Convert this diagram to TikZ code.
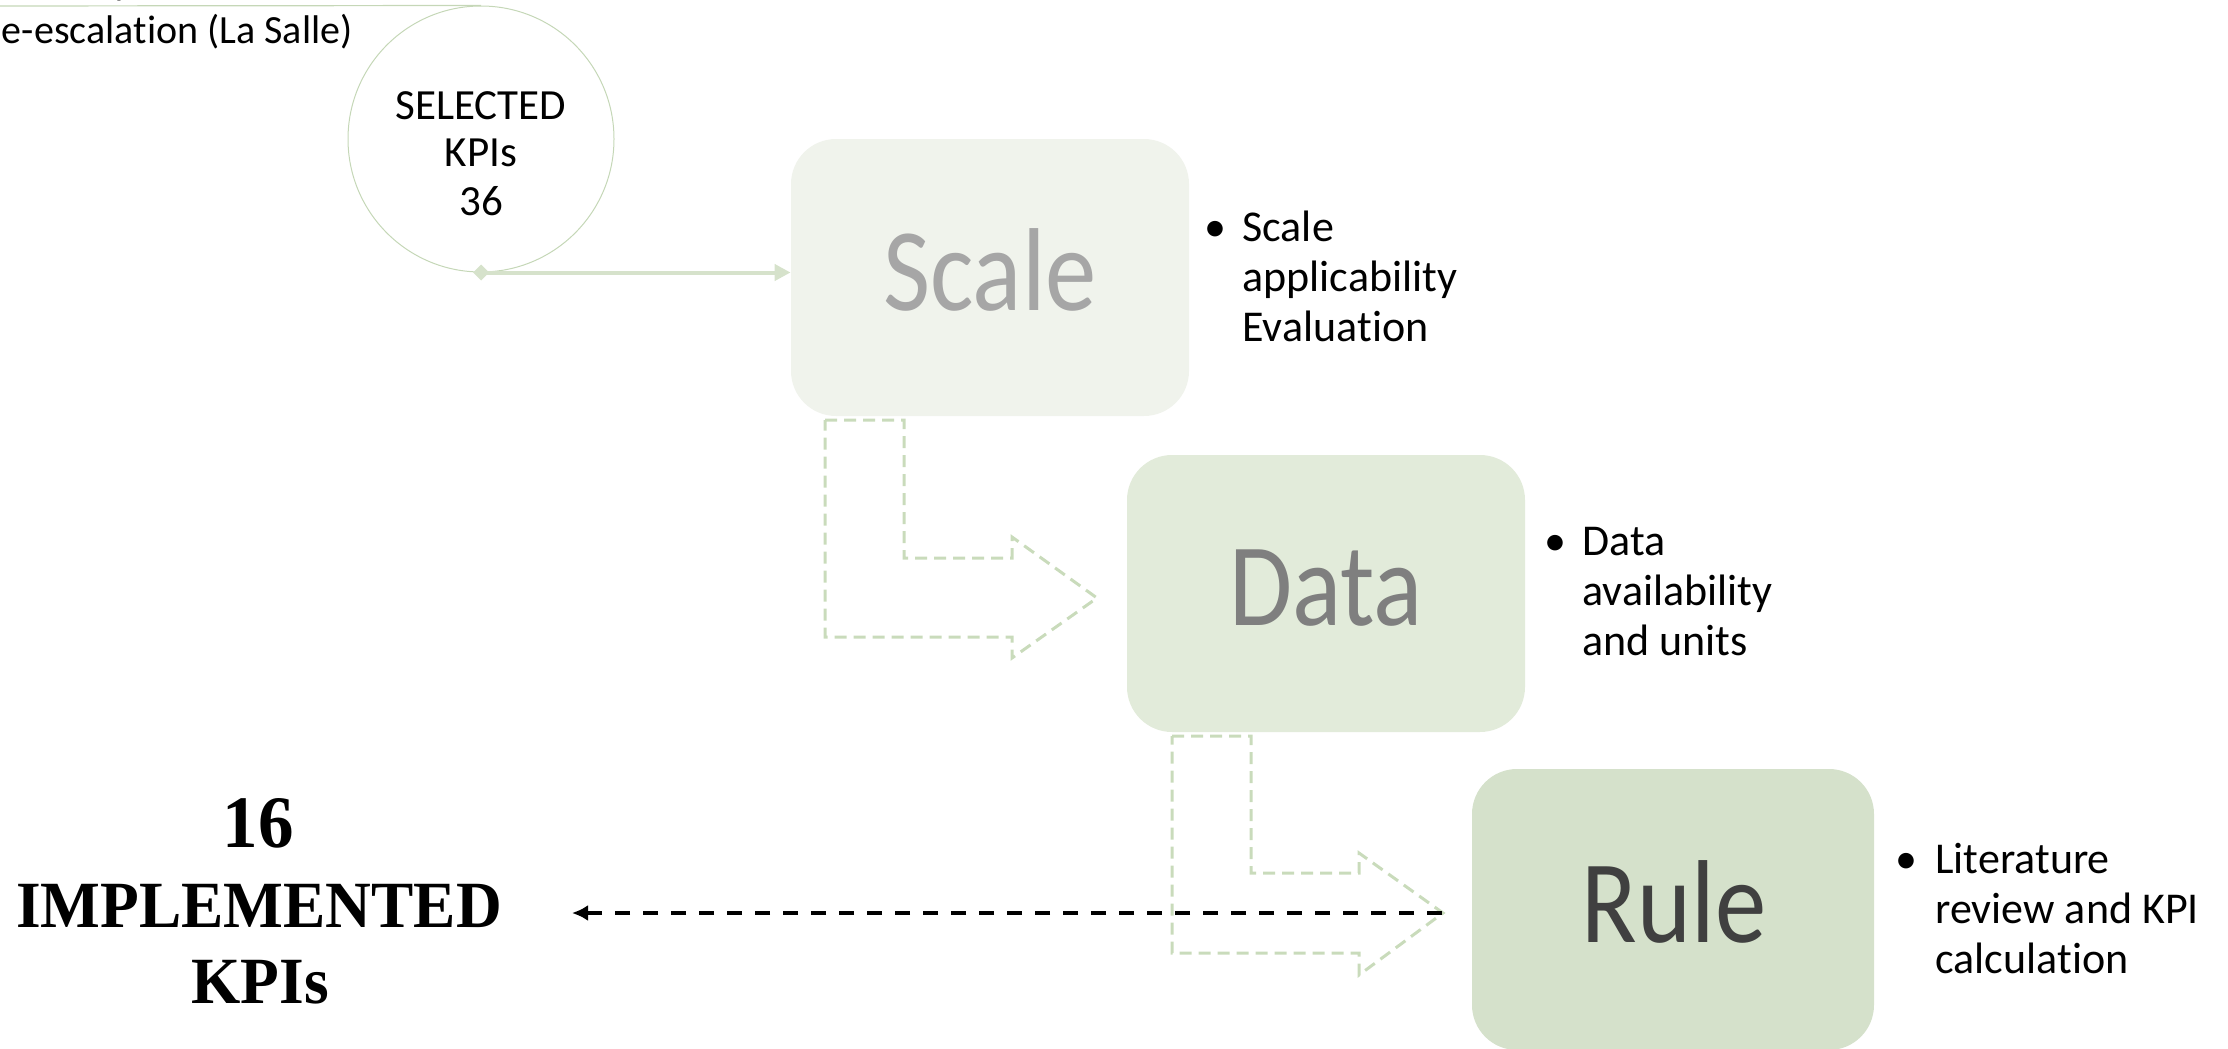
\documentclass[tikz,border=0pt]{standalone}
\usepackage{fontspec}
\setmainfont{Carlito}[RawFeature={-liga;-clig;-dlig;-calt}]
\newfontfamily\labelfont{Carlito}[FakeStretch=0.87, RawFeature={-liga;-clig;-dlig;-calt}]
\newfontfamily\kpifont{Liberation Serif}[FakeStretch=0.96]
\usetikzlibrary{arrows.meta}

\definecolor{paleA}{HTML}{F0F3EC}
\definecolor{paleB}{HTML}{E2EBDA}
\definecolor{paleC}{HTML}{D5E1CB}
\definecolor{leaf}{HTML}{C9DBBB}
\definecolor{ring}{HTML}{C5D7B7}
\definecolor{link}{HTML}{D6E2CB}
\definecolor{inkA}{HTML}{A6A6A6}
\definecolor{inkB}{HTML}{7F7F7F}
\definecolor{inkC}{HTML}{404040}

\tikzset{
  stepbox/.style={draw=none, rounded corners=22.5pt, inner sep=0pt},
  boxlabel/.style={inner sep=0pt, anchor=base, font=\labelfont\fontsize{59}{60}\selectfont},
  note/.style={inner sep=0pt, anchor=base west, font=\fontsize{22}{25}\selectfont},
  dot/.style={inner sep=0pt, anchor=base, font=\fontsize{22}{25}\selectfont},
  flowarrow/.style={draw=leaf, line width=1.5pt, dash pattern=on 6pt off 3.5pt, line join=miter},
  kpitext/.style={inner sep=0pt, anchor=base},
}

\begin{document}
\begin{tikzpicture}[x=0.5pt, y=-0.5pt]
\useasboundingbox (0,0) rectangle (2228,1049);

% text running off the top-left edge
\node[inner sep=0pt, anchor=base east, font=\fontsize{20}{24}\selectfont] (prevA) at (132,-5) {Scalability};
\node[inner sep=0pt, anchor=base east, font=\fontsize{20}{24}\selectfont] (prevB) at (353,43) {de-escala\kern0pt tion (La Salle)};

% selected KPIs circle
\node[circle, draw=ring, line width=0.5pt, minimum size=133pt, inner sep=0pt] (sel) at (481,139) {};
\node[inner sep=0pt, anchor=base, font=\fontsize{21.5}{24}\selectfont] (selText) at (481,119)
  {\begin{tabular}[t]{@{}c@{}}SELECTED\\KPIs\\36\end{tabular}};
\coordinate (offLeft) at (-10,6);
\draw[ring, line width=0.6pt] (offLeft) -- (sel.north);

% the three stages
\node[stepbox, fill=paleA, minimum width=199pt, minimum height=138.5pt] (scale) at (990,277.5) {};
\node[stepbox, fill=paleB, minimum width=199pt, minimum height=138.5pt] (data) at (1326,593.5) {};
\node[stepbox, fill=paleC, minimum width=201pt, minimum height=140.5pt] (rule) at (1673,909.5) {};

\node[boxlabel, text=inkA] (scaleLbl) at (990,310) {Scale};
\node[boxlabel, text=inkB] (dataLbl) at (1326,625) {Data};
\node[boxlabel, text=inkC] (ruleLbl) at (1674,942) {Rule};

% circle to first stage
\draw[link, line width=2pt, {Diamond[length=8pt, width=8pt]}-{Triangle[length=8pt, width=8pt]}]
  ([xshift=-4pt]sel.south) -- (sel.south -| scale.west);

% bullet notes
\node[dot] (scaleDot) at (1215,241) {\textbullet};
\node[note] (scaleNote) at (1242,241)
  {\begin{tabular}[t]{@{}l@{}}Scale\\applicability\\Evalua\kern0pt tion\end{tabular}};
\node[dot] (dataDot) at (1555,555) {\textbullet};
\node[note] (dataNote) at (1582,555)
  {\begin{tabular}[t]{@{}l@{}}Data\\availability\\and units\end{tabular}};
\node[dot] (ruleDot) at (1906,873) {\textbullet};
\node[note] (ruleNote) at (1935,873)
  {\begin{tabular}[t]{@{}l@{}}Literature\\review and KPI\\calcula\kern0pt tion\end{tabular}};

% dashed bent arrows between stages
\draw[flowarrow] (825,420) -- (904,420) -- (904,558) -- (1012,558) -- (1012,537)
  -- (1097,598) -- (1012,658) -- (1012,637) -- (825,637) -- cycle;
\draw[flowarrow] (1172,736) -- (1251,736) -- (1251,873) -- (1359,873) -- (1359,853)
  -- (1443,913) -- (1359,975) -- (1359,953) -- (1172,953) -- cycle;

% result
\node[kpitext, font=\kpifont\bfseries\fontsize{37}{40}\selectfont] (kpiNum) at (258,847) {16};
\node[kpitext, font=\kpifont\bfseries\fontsize{33}{38}\selectfont] (kpiA) at (259,927) {IMPLEMENTED};
\node[kpitext, font=\kpifont\bfseries\fontsize{33}{38}\selectfont] (kpiB) at (260,1003) {KPIs};

\coordinate (ruleOut) at (1442,913);
\coordinate (kpiIn) at (572,913);
\draw[black, line width=2pt, dash pattern=on 7.5pt off 6.5pt, -{Latex[length=8pt, width=8pt]}]
  (ruleOut) -- (kpiIn);
\end{tikzpicture}
\end{document}
